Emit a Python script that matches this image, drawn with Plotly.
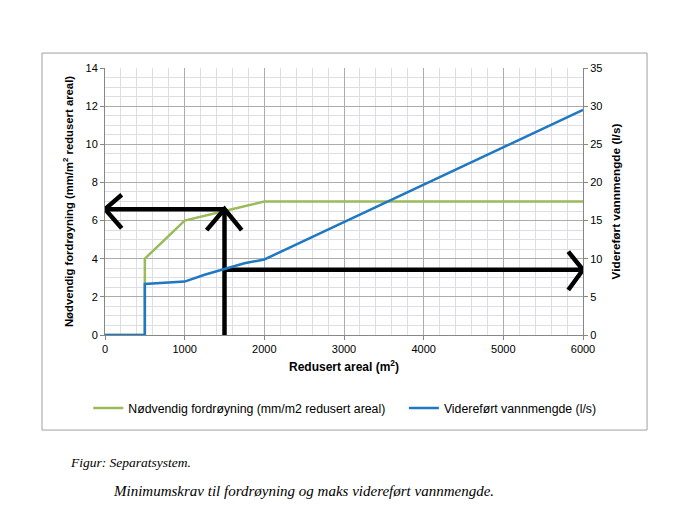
import plotly.graph_objects as go

# Data
areal_green = [0, 500, 500, 1000, 1500, 2000, 6000]
fordroyning = [0, 0, 4.0, 6.0, 6.5, 7.0, 7.0]

areal_blue = [0, 500, 500, 600, 750, 1000, 1250, 1500, 1750, 2000, 3000, 4000, 5000, 6000]
vannmengde = [0, 0, 6.7, 6.75, 6.8, 7.0, 7.9, 8.6, 9.4, 9.9, 14.8, 19.7, 24.6, 29.5]

x_ticks = [0, 1000, 2000, 3000, 4000, 5000, 6000]
left_ticks = [0, 2, 4, 6, 8, 10, 12, 14]
right_ticks = [0, 5, 10, 15, 20, 25, 30, 35]

# Hand-drawn arrows (left-axis units)
arrow_left_x = [1500, 0, None, 210, 0, 210]
arrow_left_y = [6.6, 6.6, None, 7.35, 6.6, 5.6]
arrow_up_x = [1500, 1500, None, 1276, 1500, 1716]
arrow_up_y = [0, 6.6, None, 5.5, 6.6, 5.5]
arrow_right_x = [1500, 6000, None, 5815, 6000, 5815]
arrow_right_y = [3.42, 3.42, None, 4.37, 3.42, 2.36]

GREEN = "#9BBB59"
BLUE = "#1F78C1"
FONT = "Liberation Sans"
PAD = "\u00a0" * 4

fig = go.Figure()
fig.add_trace(go.Scatter(x=areal_green, y=fordroyning, mode="lines",
                         line=dict(color=GREEN, width=2.5),
                         name="Nødvendig fordrøyning (mm/m2 redusert areal)" + PAD, yaxis="y"))
fig.add_trace(go.Scatter(x=areal_blue, y=vannmengde, mode="lines",
                         line=dict(color=BLUE, width=2.5),
                         name="Videreført vannmengde (l/s)", yaxis="y2"))
for ax, ay in [(arrow_left_x, arrow_left_y), (arrow_up_x, arrow_up_y), (arrow_right_x, arrow_right_y)]:
    fig.add_trace(go.Scatter(x=ax, y=ay, mode="lines", line=dict(color="black", width=4.5),
                             showlegend=False, hoverinfo="skip", yaxis="y"))

fig.update_layout(
    width=700, height=518,
    margin=dict(l=105, r=117, t=68, b=183),
    paper_bgcolor="white", plot_bgcolor="white",
    font=dict(family=FONT, size=11, color="#000000"),
    showlegend=True,
    legend=dict(orientation="h", x=-0.035, xanchor="left", y=-0.273, yanchor="middle",
                font=dict(family=FONT, size=12.3), itemwidth=30, tracegroupgap=0,
                bgcolor="rgba(0,0,0,0)"),
    xaxis=dict(range=[0, 6000], tickvals=x_ticks, showgrid=True, gridcolor="#ABABAB", gridwidth=1,
               minor=dict(dtick=200, showgrid=True, gridcolor="#DDDDE8", gridwidth=1),
               showline=True, linecolor="#868686", linewidth=1, ticks="outside", ticklen=4,
               tickcolor="#868686", zeroline=False,
               title=dict(text="<b>Redusert areal (m<sup>2</sup>)</b>", font=dict(size=12), standoff=8),
               tickfont=dict(size=11)),
    yaxis=dict(range=[0, 14], tickvals=left_ticks, showgrid=True, gridcolor="#ABABAB", gridwidth=1,
               minor=dict(dtick=0.5, showgrid=True, gridcolor="#DDDDE8", gridwidth=1),
               showline=True, linecolor="#868686", linewidth=1, ticks="outside", ticklen=4,
               tickcolor="#868686", zeroline=False,
               title=dict(text="<b>Nødvendig fordrøyning (mm/m<sup>2</sup> redusert areal)</b>",
                          font=dict(size=11.3), standoff=9),
               tickfont=dict(size=11)),
    yaxis2=dict(range=[0, 35], tickvals=right_ticks, overlaying="y", side="right", showgrid=False,
                showline=True, linecolor="#868686", linewidth=1, ticks="outside", ticklen=4,
                tickcolor="#868686", zeroline=False,
                title=dict(text="<b>Videreført vannmengde (l/s)</b>", font=dict(size=11.8), standoff=10),
                tickfont=dict(size=11)),
)

# Chart border
fig.add_shape(type="rect", xref="paper", yref="paper",
              x0=-0.1318, x1=1.134, y0=-0.356, y1=1.056,
              line=dict(color="#A0A0A0", width=1), fillcolor="rgba(0,0,0,0)", layer="below")

# Caption
fig.add_annotation(text="<i>Figur: Separatsystem.</i>", xref="paper", yref="paper",
                   x=-0.0774, y=-0.479, xanchor="left", yanchor="middle", showarrow=False,
                   font=dict(family="Liberation Serif", size=13.5, color="black"))
fig.add_annotation(text="<i>Minimumskrav til fordrøyning og maks videreført vannmengde.</i>",
                   xref="paper", yref="paper",
                   x=0.0126, y=-0.584, xanchor="left", yanchor="middle", showarrow=False,
                   font=dict(family="Liberation Serif", size=15, color="black"))

fig.write_html("out.html")
